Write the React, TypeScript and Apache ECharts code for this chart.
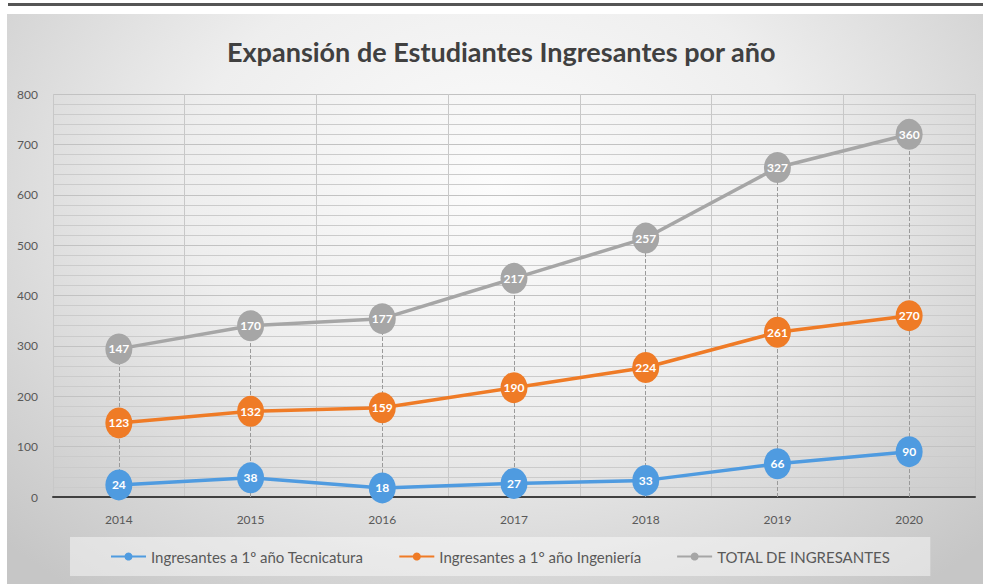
import React, { useEffect, useRef } from "react";
import * as echarts from "echarts";

const years = ["2014", "2015", "2016", "2017", "2018", "2019", "2020"];
const tecnicatura = [24, 38, 18, 27, 33, 66, 90];
const ingenieria = [123, 132, 159, 190, 224, 261, 270];
const totalIngresantes = [147, 170, 177, 217, 257, 327, 360];
const seriesNames = [
  "Ingresantes a 1º año Tecnicatura",
  "Ingresantes a 1° año Ingeniería",
  "TOTAL DE INGRESANTES",
];
const seriesColors = ["#4f9be0", "#ef7b26", "#a6a6a6"];
const titleText = "Expansión de Estudiantes Ingresantes por año";

const FONT = "Lato, 'Open Sans', sans-serif";

export default function App() {
  const ref = useRef<HTMLDivElement>(null);

  useEffect(() => {
    if (!ref.current) return;
    const chart = echarts.init(ref.current, undefined, { renderer: "svg" });
    const stackedTop = years.map(
      (_, i) => tecnicatura[i] + ingenieria[i] + totalIngresantes[i]
    );
    const values = [tecnicatura, ingenieria, totalIngresantes];
    const lineSeries = values.map((d, k) => ({
      name: seriesNames[k],
      type: "line",
      stack: "total",
      data: d,
      z: 3,
      symbol: "circle",
      symbolSize: [27, 31],
      lineStyle: { width: 3.5, color: seriesColors[k] },
      itemStyle: { color: seriesColors[k] },
      label: {
        show: true,
        position: "inside",
        color: "#ffffff",
        fontFamily: FONT,
        fontSize: 12,
        fontWeight: "bold",
      },
      emphasis: { disabled: true },
    }));

    chart.setOption({
      animation: false,
      textStyle: { fontFamily: FONT },
      title: {
        text: titleText,
        left: 222,
        top: 33,
        textStyle: {
          fontFamily: FONT,
          fontSize: 27,
          fontWeight: "bold",
          color: "#404040",
        },
      },
      legend: {
        data: seriesNames,
        left: 70,
        top: 537,
        padding: [12, 40],
        itemGap: 35,
        itemWidth: 35,
        itemHeight: 10,
        backgroundColor: "rgba(255,255,255,0.45)",
        textStyle: { fontFamily: FONT, fontSize: 15, color: "#595959" },
      },
      grid: { left: 53, right: 8, top: 94, bottom: 87, containLabel: false },
      xAxis: {
        type: "category",
        data: years,
        boundaryGap: true,
        axisLine: { show: true, lineStyle: { color: "#404040", width: 2 } },
        axisTick: { show: false },
        axisLabel: {
          color: "#595959",
          fontSize: 12,
          margin: 16,
          fontFamily: FONT,
        },
        splitLine: { show: true, lineStyle: { color: "#c8c8c8", width: 1 } },
      },
      yAxis: {
        type: "value",
        min: 0,
        max: 800,
        interval: 100,
        axisLine: { show: false },
        axisTick: { show: false },
        axisLabel: {
          color: "#595959",
          fontSize: 12,
          margin: 15,
          fontFamily: FONT,
        },
        splitLine: { show: true, lineStyle: { color: "#c2c2c2", width: 1 } },
        minorTick: { show: false, splitNumber: 5 },
        minorSplitLine: { show: true, lineStyle: { color: "#cbcbcb", width: 1 } },
      },
      series: [
        {
          name: "drop",
          type: "line",
          data: stackedTop,
          z: 1,
          symbol: "none",
          lineStyle: { opacity: 0, width: 0 },
          silent: true,
          tooltip: { show: false },
          markLine: {
            silent: true,
            z: 1,
            symbol: ["none", "none"],
            label: { show: false },
            lineStyle: { color: "#9a9a9a", type: "dashed", width: 1 },
            data: stackedTop.map((v, i) => [
              { coord: [i, 0] },
              { coord: [i, v] },
            ]),
          },
        },
        ...lineSeries,
      ],
    });
    return () => chart.dispose();
  }, []);

  return (
    <div
      style={{
        position: "fixed",
        left: 0,
        top: 0,
        width: 983,
        height: 584,
        background: "#ffffff",
        overflow: "hidden",
      }}
    >
      <div
        style={{
          position: "absolute",
          left: 8,
          top: 3,
          width: 975,
          height: 3,
          background: "#555555",
        }}
      />
      <div
        style={{
          position: "absolute",
          left: 7,
          top: 14,
          width: 976,
          height: 570,
          background:
            "radial-gradient(ellipse 70% 90% at 50% 30%, #fcfcfc 0%, #eeeeee 45%, #d4d4d4 80%, #c6c6c6 100%)",
        }}
      />
      <div
        ref={ref}
        style={{ position: "absolute", left: 0, top: 0, width: 983, height: 584 }}
      />
    </div>
  );
}
